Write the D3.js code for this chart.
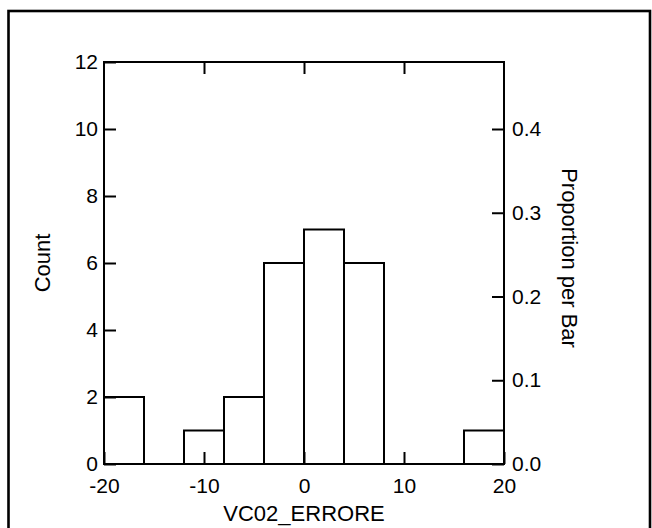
<!DOCTYPE html>
<html>
<head>
<meta charset="utf-8">
<script src="https://cdn.jsdelivr.net/npm/d3@7"></script>
<style>
  html, body { margin: 0; padding: 0; background: #fff; }
  svg { display: block; }
  text { font-family: "Liberation Sans", Arial, sans-serif; fill: #000; }
</style>
</head>
<body>
<script>
// ---- data ----
const binStarts = [-20, -16, -12, -8, -4, 0, 4, 8, 12, 16];
const binWidth = 4;
const counts = [2, 0, 1, 2, 6, 7, 6, 0, 0, 1];
const countTicks = [0, 2, 4, 6, 8, 10, 12];
const xTicks = [-20, -10, 0, 10, 20];
const topTicks = [-10, 0, 10];
const propTicks = [0.0, 0.1, 0.2, 0.3, 0.4];
const xTitle = "VC02_ERRORE";
const yTitle = "Count";
const y2Title = "Proportion per Bar";

const W = 652, H = 528;
const total = d3.sum(counts);

const svg = d3.select("body").append("svg").attr("width", W).attr("height", H);

// outer border
svg.append("rect")
  .attr("x", 8.5).attr("y", 11).attr("width", 641.5).attr("height", 600)
  .attr("fill", "none").attr("stroke", "#000").attr("stroke-width", 2.6);

const x = d3.scaleLinear().domain([-20, 20]).range([104, 504]);
const y = d3.scaleLinear().domain([0, 12]).range([464, 62]);
const yProp = d3.scaleLinear().domain([0, 12 / total]).range([464, 62]);

// bars
svg.append("g").selectAll("rect")
  .data(binStarts.map((s, i) => ({ s, c: counts[i] })).filter(d => d.c > 0))
  .join("rect")
  .attr("x", d => x(d.s))
  .attr("y", d => y(d.c))
  .attr("width", d => x(d.s + binWidth) - x(d.s))
  .attr("height", d => y(0) - y(d.c))
  .attr("fill", "#fff").attr("stroke", "#000").attr("stroke-width", 2);

function styleAxis(g) {
  g.select(".domain").remove();
  g.selectAll(".tick line").attr("stroke", "#000").attr("stroke-width", 2);
  g.selectAll(".tick text").attr("font-size", 21).attr("fill", "#000")
    .attr("font-family", "Liberation Sans, Arial, sans-serif");
}

const plain = d => String(d);

// left axis
svg.append("g").attr("transform", `translate(${x(-20)},0)`)
  .call(d3.axisLeft(y).tickValues(countTicks).tickSizeInner(-12).tickSizeOuter(0).tickPadding(6).tickFormat(plain))
  .call(styleAxis);

// right axis
svg.append("g").attr("transform", `translate(${x(20)},0)`)
  .call(d3.axisRight(yProp).tickValues(propTicks).tickSizeInner(-12).tickSizeOuter(0).tickPadding(8).tickFormat(d => d.toFixed(1)))
  .call(styleAxis);

// bottom axis
svg.append("g").attr("transform", `translate(0,${y(0)})`)
  .call(d3.axisBottom(x).tickValues(xTicks).tickSizeInner(-12).tickSizeOuter(0).tickPadding(14).tickFormat(plain))
  .call(styleAxis);

// top axis (ticks only)
svg.append("g").attr("transform", `translate(0,${y(12)})`)
  .call(d3.axisTop(x).tickValues(topTicks).tickSizeInner(-12).tickSizeOuter(0).tickFormat(""))
  .call(styleAxis);

// frame
svg.append("rect")
  .attr("x", x(-20)).attr("y", y(12))
  .attr("width", x(20) - x(-20)).attr("height", y(0) - y(12))
  .attr("fill", "none").attr("stroke", "#000").attr("stroke-width", 2);

// titles
svg.append("text")
  .attr("x", x(0)).attr("y", 521)
  .attr("text-anchor", "middle").attr("font-size", 22)
  .text(xTitle);

svg.append("text")
  .attr("transform", `translate(50,263) rotate(-90)`)
  .attr("text-anchor", "middle").attr("font-size", 22)
  .text(yTitle);

svg.append("text")
  .attr("transform", `translate(562,258) rotate(90)`)
  .attr("text-anchor", "middle").attr("font-size", 22)
  .text(y2Title);
</script>
</body>
</html>
